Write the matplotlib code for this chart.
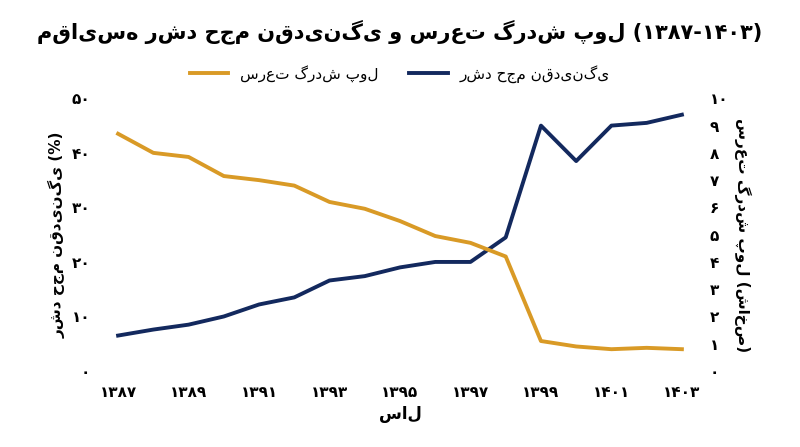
import matplotlib
matplotlib.use("Agg")
import matplotlib.pyplot as plt

plt.rcParams['font.family'] = ['DejaVu Sans', 'Noto Sans']

years = list(range(1387, 1404))
liquidity = [6.5, 7.6, 8.5, 10, 12.2, 13.5, 16.6, 17.4, 19, 20, 20, 24.5, 45, 38.5, 45, 45.5, 47]
velocity = [8.7, 8.0, 7.85, 7.15, 7.0, 6.8, 6.2, 5.95, 5.5, 4.95, 4.7, 4.2, 1.1, 0.9, 0.8, 0.85, 0.8]

fa = str.maketrans('0123456789', '۰۱۲۳۴۵۶۷۸۹')
def p(n): return str(n).translate(fa)

navy = '#13295e'
orange = '#d99a26'

fig = plt.figure(figsize=(8, 4.47), dpi=100)
ax = fig.add_axes([0.13, 0.17, 0.74, 0.61])
ax2 = ax.twinx()
l1, = ax.plot(years, liquidity, color=navy, lw=2.8, label='رشد حجم نقدینگی')
l2, = ax2.plot(years, velocity, color=orange, lw=2.8, label='سرعت گردش پول')
ax.set_ylim(0, 50); ax2.set_ylim(0, 10)
ax.set_xlim(1386.6, 1403.4)
ax.set_yticks(range(0, 51, 10)); ax.set_yticklabels([p(v) for v in range(0, 51, 10)])
ax2.set_yticks(range(0, 11)); ax2.set_yticklabels([p(v) for v in range(0, 11)])
xt = list(range(1387, 1404, 2))
ax.set_xticks(xt); ax.set_xticklabels([p(v) for v in xt])
for a in (ax, ax2):
    for s in a.spines.values(): s.set_visible(False)
    a.tick_params(length=0, labelsize=11, pad=10)
    for t in a.get_xticklabels() + a.get_yticklabels(): t.set_fontweight('bold')
ax.set_xlabel('سال', fontsize=12, fontweight='bold')
ax.set_ylabel('رشد حجم نقدینگی (%)', fontsize=11, fontweight='bold')
ax2.set_ylabel('سرعت گردش پول (شاخص)', fontsize=11, fontweight='bold', rotation=270, labelpad=16)
fig.text(0.5, 0.93, 'مقایسه رشد حجم نقدینگی و سرعت گردش پول (۱۳۸۷-۱۴۰۳)', ha='center', va='center', fontsize=15, fontweight='bold')
fig.legend(handles=[l2, l1], loc='center', bbox_to_anchor=(0.5, 0.835), ncol=2, frameon=False, fontsize=11, handlelength=2.5)
fig.savefig('out.png', dpi=100)
